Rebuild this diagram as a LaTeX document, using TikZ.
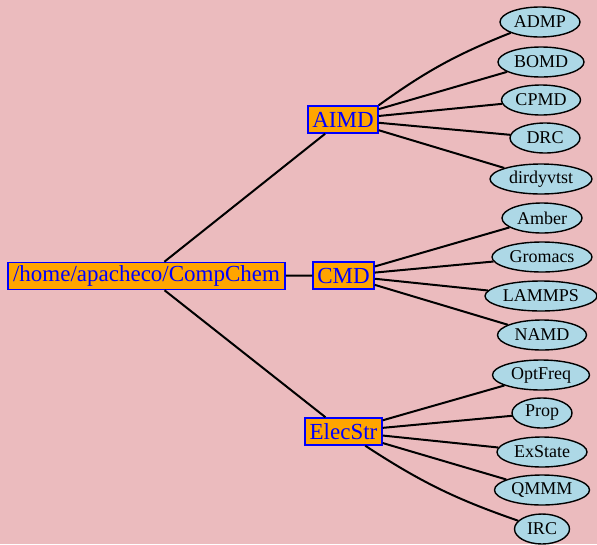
\documentclass[tikz,border=0pt]{standalone}
\usepackage{fontspec}
\setmainfont{Liberation Serif}
\usetikzlibrary{shapes.geometric}
\definecolor{bgpink}{RGB}{235,187,190}
\definecolor{boxorange}{RGB}{255,165,0}
\definecolor{leafblue}{RGB}{173,216,230}
\tikzset{
  dir/.style={draw=blue, line width=1.5pt, fill=boxorange, text=blue, rectangle,
    inner xsep=1pt, inner ysep=0pt, minimum height=27pt,
    font=\fontsize{23}{25}\selectfont},
  leaf/.style={draw=black, line width=1.4pt, fill=leafblue, ellipse,
    inner sep=0pt, minimum height=30pt, font=\fontsize{18}{20}\selectfont},
  link/.style={draw=black, line width=2pt}
}
\begin{document}
\begin{tikzpicture}[x=1pt,y=-1pt]
\fill[bgpink] (0,0) rectangle (597,544);
\useasboundingbox (0,0) rectangle (597,544);
\node[dir, minimum width=277pt] (root) at (146.5,276) {/home/apacheco/CompChem};
\node[dir, minimum width=70pt] (aimd) at (343,119.5) {AIMD};
\node[dir, minimum width=61pt] (cmd) at (343.5,275.5) {CMD};
\node[dir, minimum width=77pt] (elec) at (343.5,431.5) {ElecStr};

\node[leaf, minimum width=80pt] (admp) at (540,22) {ADMP};
\node[leaf, minimum width=86pt] (bomd) at (541,62) {BOMD};
\node[leaf, minimum width=79pt] (cpmd) at (541,100) {CPMD};
\node[leaf, minimum width=70pt] (drc) at (545,138) {DRC};
\node[leaf, minimum width=102pt] (dirdy) at (541,179) {dirdyvtst};

\node[leaf, minimum width=80pt] (amber) at (542,218) {Amber};
\node[leaf, minimum width=100pt] (gromacs) at (542,257) {Gromacs};
\node[leaf, minimum width=112pt] (lammps) at (541,296) {LAMMPS};
\node[leaf, minimum width=89pt] (namd) at (542,335) {NAMD};

\node[leaf, minimum width=97pt] (optfreq) at (541,375) {OptFreq};
\node[leaf, minimum width=60pt] (prop) at (542,413) {Prop};
\node[leaf, minimum width=90pt] (exstate) at (542,452) {ExState};
\node[leaf, minimum width=95pt] (qmmm) at (542,490) {QMMM};
\node[leaf, minimum width=55pt] (irc) at (542,529) {IRC};

\path[link] (root) -- (aimd);
\path[link] (root) -- (cmd);
\path[link] (root) -- (elec);
\path[link] (aimd.north east) to[bend left=7] (admp);
\path[link] (aimd) -- (bomd);
\path[link] (aimd) -- (cpmd);
\path[link] (aimd) -- (drc);
\path[link] (aimd) -- (dirdy);
\path[link] (cmd) -- (amber);
\path[link] (cmd) -- (gromacs);
\path[link] (cmd) -- (lammps);
\path[link] (cmd) -- (namd);
\path[link] (elec) -- (optfreq);
\path[link] (elec) -- (prop);
\path[link] (elec) -- (exstate);
\path[link] (elec) -- (qmmm);
\path[link] (elec) to[bend right=7] (irc);
\end{tikzpicture}
\end{document}
